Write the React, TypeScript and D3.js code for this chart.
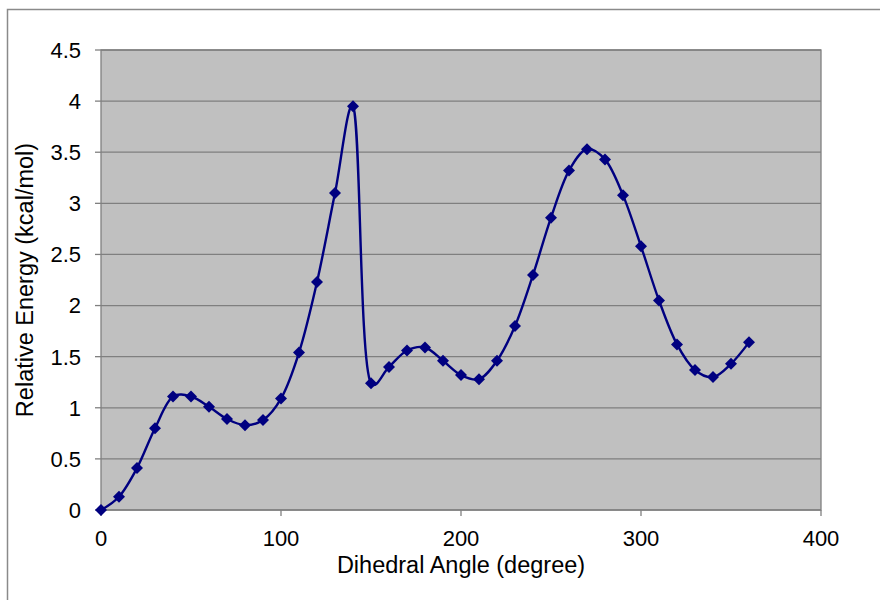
import React from "react";
import * as d3 from "d3";

const angles = [0, 10, 20, 30, 40, 50, 60, 70, 80, 90, 100, 110, 120, 130, 140, 150, 160, 170, 180, 190, 200, 210, 220, 230, 240, 250, 260, 270, 280, 290, 300, 310, 320, 330, 340, 350, 360];
const energies = [0, 0.13, 0.41, 0.8, 1.11, 1.11, 1.01, 0.89, 0.83, 0.88, 1.09, 1.54, 2.23, 3.1, 3.95, 1.24, 1.4, 1.56, 1.59, 1.46, 1.32, 1.28, 1.46, 1.8, 2.3, 2.86, 3.32, 3.53, 3.43, 3.08, 2.58, 2.05, 1.62, 1.37, 1.3, 1.43, 1.64];
const xTicks = [0, 100, 200, 300, 400];
const yTicks = [0, 0.5, 1, 1.5, 2, 2.5, 3, 3.5, 4, 4.5];
const xTitle = "Dihedral Angle (degree)";
const yTitle = "Relative Energy (kcal/mol)";

export default function App() {
  const W = 880, H = 600;
  const left = 101, right = 821, top = 50, bottom = 510;
  const x = d3.scaleLinear().domain([0, 400]).range([left, right]);
  const y = d3.scaleLinear().domain([0, 4.5]).range([bottom, top]);
  const pts = angles.map((a, i) => [a, energies[i]] as [number, number]);
  const line = d3.line<[number, number]>().x(d => x(d[0])).y(d => y(d[1])).curve(d3.curveCatmullRom.alpha(0.35));
  const font = "'Liberation Sans', Arial, sans-serif";
  const m = 6;
  return (
    <svg width={W} height={H} style={{ position: "absolute", left: 0, top: 0, background: "#fff" }}>
      <rect x={0} y={0} width={W} height={H} fill="#fff" />
      <path d={`M7.5,${H}V9.5H${W}`} fill="none" stroke="#8a8a8a" strokeWidth={1.5} />
      <rect x={left} y={top} width={right - left} height={bottom - top} fill="#c0c0c0" />
      {yTicks.map(t => (
        <line key={"g" + t} x1={left} x2={right} y1={y(t)} y2={y(t)} stroke="#7f7f7f" strokeWidth={1.3} />
      ))}
      <rect x={left} y={top} width={right - left} height={bottom - top} fill="none" stroke="#808080" strokeWidth={1.3} />
      {yTicks.map(t => (
        <g key={"y" + t}>
          <line x1={left - 6} x2={left} y1={y(t)} y2={y(t)} stroke="#808080" strokeWidth={1.3} />
          <text x={81} y={y(t)} dy="0.36em" textAnchor="end" fontFamily={font} fontSize={22} fill="#000">{t}</text>
        </g>
      ))}
      {xTicks.map(t => (
        <g key={"x" + t}>
          <line x1={x(t)} x2={x(t)} y1={bottom} y2={bottom + 6} stroke="#808080" strokeWidth={1.3} />
          <text x={x(t)} y={545.5} textAnchor="middle" fontFamily={font} fontSize={22} fill="#000">{t}</text>
        </g>
      ))}
      <text x={(left + right) / 2} y={572.5} textAnchor="middle" fontFamily={font} fontSize={23.5} fill="#000">{xTitle}</text>
      <text transform={`translate(33,${(top + bottom) / 2}) rotate(-90)`} textAnchor="middle" fontFamily={font} fontSize={23.5} fill="#000">{yTitle}</text>
      <path d={line(pts) || ""} fill="none" stroke="#000080" strokeWidth={2.4} />
      {pts.map((p, i) => (
        <path key={i} d={`M${x(p[0])},${y(p[1]) - m}L${x(p[0]) + m},${y(p[1])}L${x(p[0])},${y(p[1]) + m}L${x(p[0]) - m},${y(p[1])}Z`} fill="#000080" />
      ))}
    </svg>
  );
}
